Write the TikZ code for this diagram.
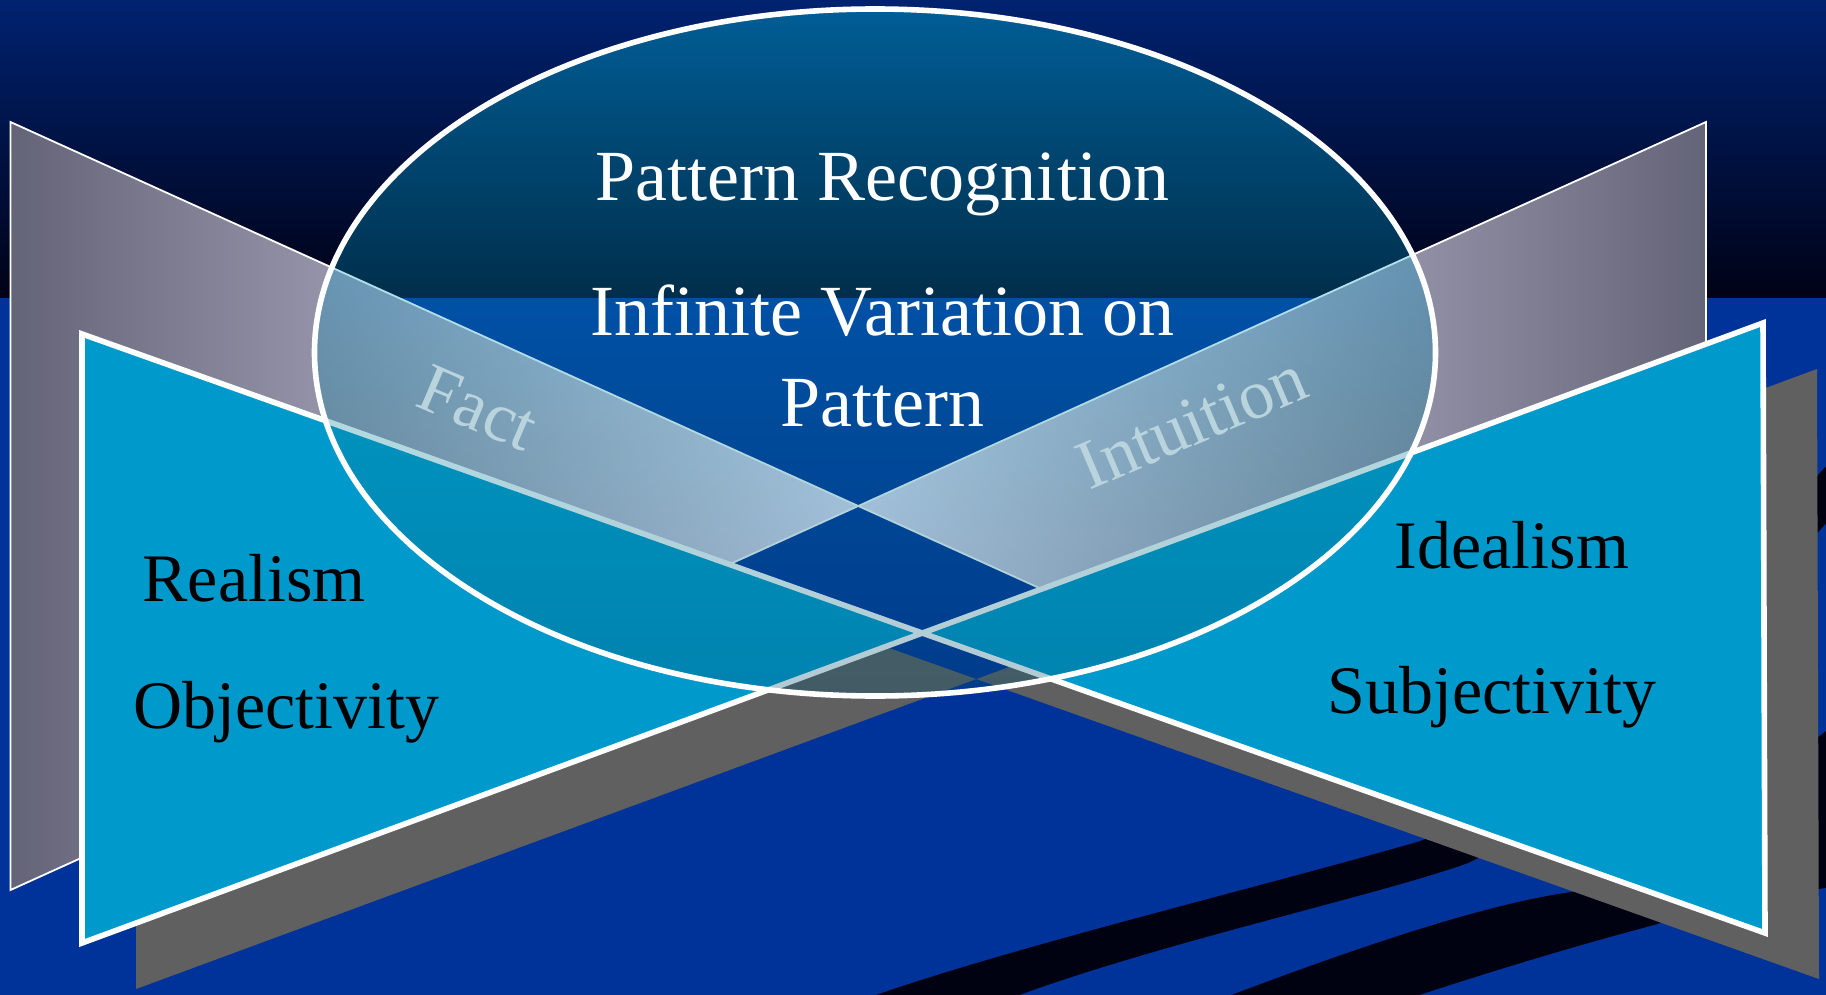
\documentclass[tikz,border=0pt]{standalone}
\usepackage{fontspec}
\setmainfont{Liberation Serif}
\usetikzlibrary{calc}

\definecolor{deepblue}{RGB}{0,51,153}
\definecolor{skytop}{RGB}{0,34,112}
\definecolor{skybot}{RGB}{0,2,22}
\definecolor{swoosh}{RGB}{0,2,18}
\definecolor{shadowgrey}{RGB}{96,96,96}
\definecolor{lavdark}{RGB}{100,100,120}
\definecolor{lavlight}{RGB}{232,226,250}
\definecolor{cyanfill}{RGB}{0,153,204}
\definecolor{bandlabel}{RGB}{186,212,222}

\pgfdeclareverticalshading{ovalfill}{100bp}{rgb(0bp)=(0,0.31,0.43); rgb(25bp)=(0,0.31,0.43); rgb(45bp)=(0,0.51,0.61); rgb(54bp)=(0,0.59,0.78); rgb(75bp)=(0,0.92,0.96); rgb(100bp)=(0,0.92,0.96)}

\tikzset{
	bigtext/.style={text=white, font=\fontsize{36}{40}\selectfont, anchor=base, inner sep=0pt},
	sidetext/.style={text=black, font=\fontsize{34}{38}\selectfont, anchor=base, inner sep=0pt},
	bandtext/.style={text=bandlabel, font=\fontsize{35}{38}\selectfont, inner sep=0pt}
}

\begin{document}
\begin{tikzpicture}[x=0.5pt, y=-0.5pt]
	\useasboundingbox (0,0) rectangle (1826,995);
	\fill[deepblue] (0,0) rectangle (1826,995);
	\shade[top color=skytop, bottom color=skybot] (0,0) rectangle (1826,297);
	
	\fill[swoosh] (862,1000) .. controls (1000,950) and (1250,890) .. (1417,842) .. controls (1600,780) and (1700,600) .. (1830,462) -- (1830,519) .. controls (1720,640) and (1600,800) .. (1468,863) .. controls (1380,895) and (1150,945) .. (1006,1000) -- cycle;
	\fill[swoosh] (1218,1000) .. controls (1350,950) and (1480,905) .. (1571,892) .. controls (1680,870) and (1760,780) .. (1830,728) -- (1830,887) .. controls (1760,900) and (1700,910) .. (1654,925) .. controls (1560,950) and (1480,975) .. (1404,1000) -- cycle;
	
	\coordinate (LT) at (10.5,122);
	\coordinate (LB) at (10.5,890);
	\coordinate (RT) at (1706,122);
	\coordinate (RB) at (1706,890);
	\coordinate (X) at (858.25,506);
	
	\coordinate (A) at (82,334);
	\coordinate (B) at (82,943);
	\coordinate (C) at (1763,323);
	\coordinate (D) at (1765,933);
	
	\fill[shadowgrey] ($(A)+(54,46)$) -- ($(D)+(54,46)$) -- ($(C)+(54,46)$) -- ($(B)+(54,46)$) -- cycle;
	
	\shade[left color=lavdark, right color=lavlight] (LT) -- (X) -- (LB) -- cycle;
	\shade[left color=lavlight, right color=lavdark] (RT) -- (X) -- (RB) -- cycle;
	\draw[white, line width=0.9pt] (LT) -- (X) -- (LB) -- cycle;
	\draw[white, line width=0.9pt] (RT) -- (X) -- (RB) -- cycle;
	
	\draw[white, fill=cyanfill, line width=2.8pt] (A) -- (D) -- (C) -- (B) -- cycle;
	
	\coordinate (O) at (875,352.5);
	\shade[shading=ovalfill, fill opacity=0.3] (O) ellipse [x radius=560.5, y radius=343.5];
	\draw[white, line width=2.8pt] (O) ellipse [x radius=560.5, y radius=343.5];
	
	\node[bigtext] (recog) at (882,200) {Pattern Recognition};
	\node[bigtext] (variation) at (882,335) {Infinite Variation on};
	\node[bigtext] (pattern) at (882,426) {Pattern};
	
	\node[bandtext, rotate=-23] (fact) at (478,408) {Fact};
	\node[bandtext, rotate=23] (intuition) at (1192,422) {Intuition};
	
	\node[sidetext] (realism) at (254,601) {Realism};
	\node[sidetext] (objectivity) at (286,728) {Objectivity};
	\node[sidetext] (idealism) at (1512,568) {Idealism};
	\node[sidetext] (subjectivity) at (1492,713) {Subjectivity};
\end{tikzpicture}
\end{document}
